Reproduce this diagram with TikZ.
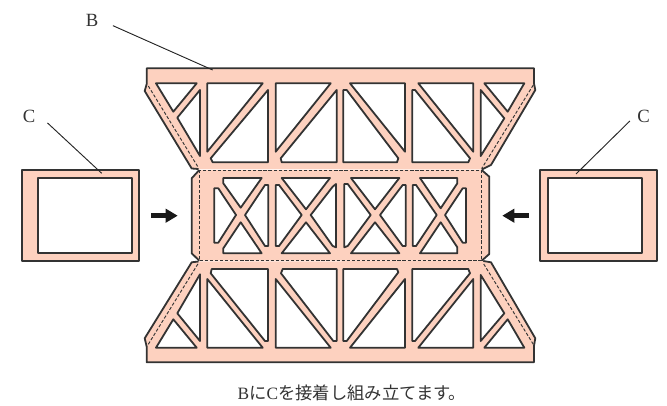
\documentclass[tikz,border=0pt]{standalone}
\usepackage{fontspec}
\setmainfont{Liberation Serif}
\newfontfamily\jpfont{Noto Sans CJK JP}
\usepackage{tikz}
\usetikzlibrary{arrows.meta}
\definecolor{partpink}{HTML}{FDD1BF}
\definecolor{partline}{HTML}{333333}
\tikzset{
    piece/.style={fill=partpink,draw=partline,line width=1.35pt,line join=round},
    edge/.style={draw=partline,line width=1.35pt,line join=round},
    hole/.style={fill=white,draw=partline,line width=1.35pt,line join=round},
    fold/.style={draw=partline,line width=0.7pt,dash pattern=on 2.4pt off 1.4pt},
    leader/.style={draw=black!85,line width=0.7pt},
    push/.style={draw=black!90,line width=3.8pt,-{Triangle[length=9pt,width=10pt]}},
    tag/.style={font=\fontsize{14}{16}\selectfont,inner sep=0pt,minimum size=20pt,text=black!80}
}
\begin{document}
\begin{tikzpicture}[x=0.75pt,y=-0.75pt]
    \useasboundingbox (0,0) rectangle (667,406);

    % Part B, centre
    \fill[partpink] (199.3,170) -- (191.7,178.3) -- (191.7,253.3) -- (199.3,260.7) -- (481.7,260.7) -- (489.3,254) -- (489.3,176.7) -- (481.7,170) -- cycle;
    \draw[edge] (199.3,170) -- (191.7,178.3) -- (191.7,253.3) -- (199.3,260.7);
    \draw[edge] (481.7,170) -- (489.3,176.7) -- (489.3,254) -- (481.7,260.7);
    \draw[fold] (199.3,170) rectangle (481.7,260.7);

    % Part B, upper
    \draw[piece] (198.5,169) -- (191.7,168.5) -- (144.7,91) -- (146.7,84) -- (146.7,68.3) -- (534,68.3) -- (534,83.5) -- (535.3,90) -- (491,165) -- (481.7,169.5);
    \draw[fold] (148.3,86) -- (198.3,167.5);
    \draw[fold] (533.3,85) -- (481.7,168.5);
    \draw[hole] (156,83.3) -- (196.7,83.3) -- (173.3,111.7) -- cycle;
    \draw[hole] (200,90) -- (200,156) -- (177.3,117.7) -- cycle;
    \draw[hole] (207.3,83.3) -- (262.7,83.3) -- (207.3,151.7) -- cycle;
    \draw[hole] (268,90) -- (268,162.3) -- (212.7,162.3) -- (210.7,158.3) -- cycle;
    \draw[hole] (275.7,83.3) -- (330.7,83.3) -- (275.7,151.7) -- cycle;
    \draw[hole] (336.7,90) -- (336.7,162.3) -- (281.7,162.3) -- (280.7,158.3) -- cycle;
    \draw[hole] (343.3,90) -- (346.7,90) -- (398.3,158.3) -- (397,162.3) -- (343.3,162.3) -- cycle;
    \draw[hole] (350,83.3) -- (405,83.3) -- (405,151.7) -- cycle;
    \draw[hole] (412.3,90) -- (415,90) -- (470,158.3) -- (468.3,162.3) -- (412.3,162.3) -- cycle;
    \draw[hole] (418.3,83.3) -- (473.3,83.3) -- (473.3,151.7) -- cycle;
    \draw[hole] (480.7,90) -- (504.3,118.3) -- (480.7,156) -- cycle;
    \draw[hole] (484.3,83.3) -- (524.3,83.3) -- (507.7,111.7) -- cycle;

    % Part B, lower
    \draw[piece] (198.5,261.5) -- (191.7,262.3) -- (144.7,338.3) -- (146.7,346.7) -- (146.7,362.3) -- (534,362.3) -- (534,345.7) -- (535.3,338.3) -- (491,262.3) -- (483.3,261);
    \draw[fold] (148.3,344.3) -- (198.3,263.3);
    \draw[fold] (533.3,344.3) -- (483.3,263.3);
    \draw[hole] (156,347.7) -- (196.7,347.7) -- (173.3,319.3) -- cycle;
    \draw[hole] (200,274.3) -- (200,341) -- (177.3,313.3) -- cycle;
    \draw[hole] (207.3,279) -- (262.7,347.7) -- (207.3,347.7) -- cycle;
    \draw[hole] (211.7,269) -- (268,269) -- (268,341) -- (265,341) -- (210.7,273.3) -- cycle;
    \draw[hole] (275.7,279) -- (330.7,347.7) -- (275.7,347.7) -- cycle;
    \draw[hole] (282.7,269) -- (336.7,269) -- (336.7,341) -- (333.3,341) -- (281,273.3) -- cycle;
    \draw[hole] (343.3,269) -- (397,269) -- (398.3,272.3) -- (346.7,341) -- (343.3,341) -- cycle;
    \draw[hole] (405,279) -- (405,347.7) -- (350,347.7) -- cycle;
    \draw[hole] (412.3,269) -- (468.3,269) -- (470,273.3) -- (415,341) -- (412.3,341) -- cycle;
    \draw[hole] (473.3,279) -- (473.3,347.7) -- (418.3,347.7) -- cycle;
    \draw[hole] (480.7,275) -- (504.3,313.3) -- (480.7,341) -- cycle;
    \draw[hole] (507.7,319.3) -- (524.3,347.7) -- (484.3,347.7) -- cycle;

    % Centre crosses, group 1
    \draw[hole] (214.3,188.3) -- (218.3,188.3) -- (236,215) -- (218.3,242.7) -- (214.3,242.7) -- cycle;
    \draw[hole] (223.3,178) -- (261.7,178) -- (240.7,207.7) -- (223.3,183.3) -- cycle;
    \draw[hole] (240.7,222.3) -- (261.7,253.3) -- (223.3,253.3) -- (223.3,248.3) -- cycle;
    \draw[hole] (268.3,185) -- (265,185) -- (245,215) -- (265,246) -- (268.3,246) -- cycle;

    % Centre crosses, group 2
    \draw[hole] (275.7,185) -- (279,185) -- (301.7,215) -- (279,246) -- (275.7,246) -- cycle;
    \draw[hole] (281.7,178) -- (330,178) -- (306,209.3) -- cycle;
    \draw[hole] (306,222.3) -- (330,253.3) -- (281.7,253.3) -- cycle;
    \draw[hole] (336,184) -- (332.7,186.7) -- (310.7,215) -- (332.7,246) -- (336,247.3) -- cycle;

    % Centre crosses, group 3
    \draw[hole] (344.3,184) -- (347.7,184) -- (370.7,215) -- (347.7,246) -- (344.3,247.3) -- cycle;
    \draw[hole] (351,178) -- (399.3,178) -- (375,209.3) -- cycle;
    \draw[hole] (375,222.3) -- (399.3,253.3) -- (351,253.3) -- cycle;
    \draw[hole] (405.7,185) -- (402.7,185) -- (380,215) -- (402.7,246) -- (405.7,246) -- cycle;

    % Centre crosses, group 4
    \draw[hole] (412.7,185) -- (416,185) -- (436.7,215) -- (416,246) -- (412.7,246) -- cycle;
    \draw[hole] (420,178) -- (457.3,178) -- (457.3,183.3) -- (440.7,208.3) -- cycle;
    \draw[hole] (440.7,222.3) -- (457.3,247.3) -- (457.3,253.3) -- (420,253.3) -- cycle;
    \draw[hole] (466,188.3) -- (462.7,188.3) -- (445,215) -- (462.7,242.7) -- (466,242.7) -- cycle;

    % Part C, left and right
    \draw[piece] (22.3,170) rectangle (139.3,261);
    \draw[hole] (37.7,177.7) rectangle (131.7,253.3);
    \draw[piece] (540,170) rectangle (656.7,261);
    \draw[hole] (547.7,177.7) rectangle (642,253.3);

    % Arrows
    \coordinate (pushlfrom) at (151,215.7);
    \coordinate (pushlto) at (177.7,215.7);
    \coordinate (pushrfrom) at (529,215.7);
    \coordinate (pushrto) at (502.3,215.7);
    \draw[push] (pushlfrom) -- (pushlto);
    \draw[push] (pushrfrom) -- (pushrto);

    % Labels
    \node[tag] (labelb) at (92,20) {B};
    \node[tag] (labelcl) at (29,116) {C};
    \node[tag] (labelcr) at (643.5,116) {C};
    \coordinate (tipb) at (212.7,70);
    \coordinate (tipcl) at (101.7,173.3);
    \coordinate (tipcr) at (576,174);
    \draw[leader,shorten <=6pt] (labelb.-10) -- (tipb);
    \draw[leader,shorten <=5pt] (labelcl.-10) -- (tipcl);
    \draw[leader] (labelcr.200) -- (tipcr);
    \node[font=\fontsize{13}{15}\selectfont,text=black!80] (caption) at (352,393) {B{\jpfont に}C{\jpfont を接着し組み立てます。}};
\end{tikzpicture}
\end{document}
